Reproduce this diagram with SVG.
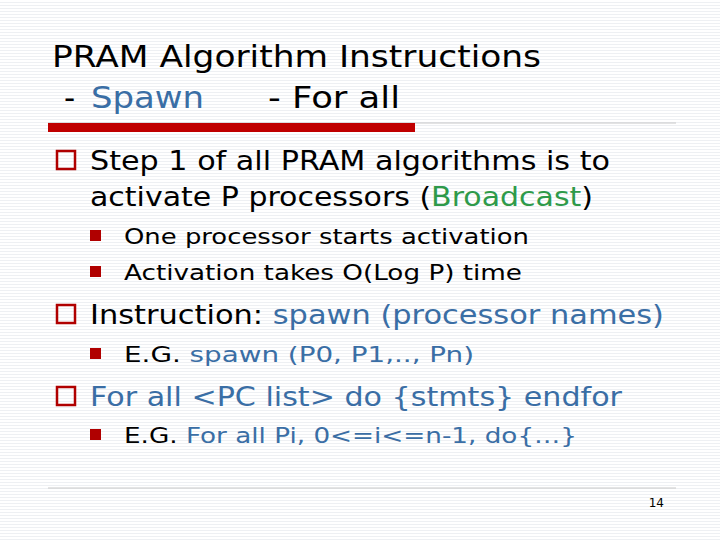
<svg xmlns="http://www.w3.org/2000/svg" width="720" height="540" viewBox="0 0 720 540">
<defs>
<pattern id="stripes" width="4" height="3" patternUnits="userSpaceOnUse"><rect width="4" height="3" fill="#ffffff"/><rect y="2" width="4" height="1" fill="#eef0f3"/></pattern>
<style>
text{font-family:"DejaVu Sans",Verdana,sans-serif;fill:#000}
.t{font-size:31px}
.b1{font-size:26px}
.b2{font-size:22px}
.blue{fill:#3a6ea5}
.green{fill:#2e9a4a}
.box{fill:none;stroke:#b00000;stroke-width:2.5}
.sq{fill:#b00000}
</style>
</defs>
<rect width="720" height="540" fill="url(#stripes)"/>
<g id="title">
<text class="t" x="52" y="67" textLength="489" lengthAdjust="spacingAndGlyphs">PRAM Algorithm Instructions</text>
<text class="t" x="64" y="108">-</text>
<text class="t blue" x="91" y="108" textLength="113" lengthAdjust="spacingAndGlyphs">Spawn</text>
<text class="t" x="268" y="108" textLength="132" lengthAdjust="spacingAndGlyphs">- For all</text>
</g>
<g id="rules">
<line x1="48" y1="123" x2="676" y2="123" stroke="#c8c8c8" stroke-width="1"/>
<rect x="48" y="123" width="367" height="9" fill="#c00000"/>
<line x1="48" y1="488" x2="676" y2="488" stroke="#c8c8c8" stroke-width="1"/>
</g>
<g id="b1">
<rect class="box" x="57" y="151" width="18" height="18"/>
<text class="b1" x="90" y="170" textLength="520" lengthAdjust="spacingAndGlyphs">Step 1 of all PRAM algorithms is to</text>
<text class="b1" x="90" y="206" textLength="503" lengthAdjust="spacingAndGlyphs">activate P processors (<tspan class="green">Broadcast</tspan>)</text>
<rect class="sq" x="90" y="230" width="11" height="11"/>
<text class="b2" x="124" y="244" textLength="405" lengthAdjust="spacingAndGlyphs">One processor starts activation</text>
<rect class="sq" x="90" y="266" width="11" height="11"/>
<text class="b2" x="124" y="280" textLength="398" lengthAdjust="spacingAndGlyphs">Activation takes O(Log P) time</text>
</g>
<g id="b2">
<rect class="box" x="57" y="305" width="18" height="18"/>
<text class="b1" x="90" y="324" textLength="574" lengthAdjust="spacingAndGlyphs">Instruction: <tspan class="blue">spawn (processor names)</tspan></text>
<rect class="sq" x="90" y="348" width="11" height="11"/>
<text class="b2" x="124" y="362" textLength="350" lengthAdjust="spacingAndGlyphs">E.G.  <tspan class="blue">spawn (P0, P1,.., Pn)</tspan></text>
</g>
<g id="b3">
<rect class="box" x="57" y="387" width="18" height="18"/>
<text class="b1 blue" x="90" y="406" textLength="532" lengthAdjust="spacingAndGlyphs">For all &lt;PC list&gt; do {stmts} endfor</text>
<rect class="sq" x="90" y="429" width="11" height="11"/>
<text class="b2" x="124" y="443" textLength="453" lengthAdjust="spacingAndGlyphs">E.G. <tspan class="blue">For all Pi, 0&lt;=i&lt;=n-1, do{…}</tspan></text>
</g>
<text x="664" y="507" font-size="12" text-anchor="end">14</text>
</svg>
